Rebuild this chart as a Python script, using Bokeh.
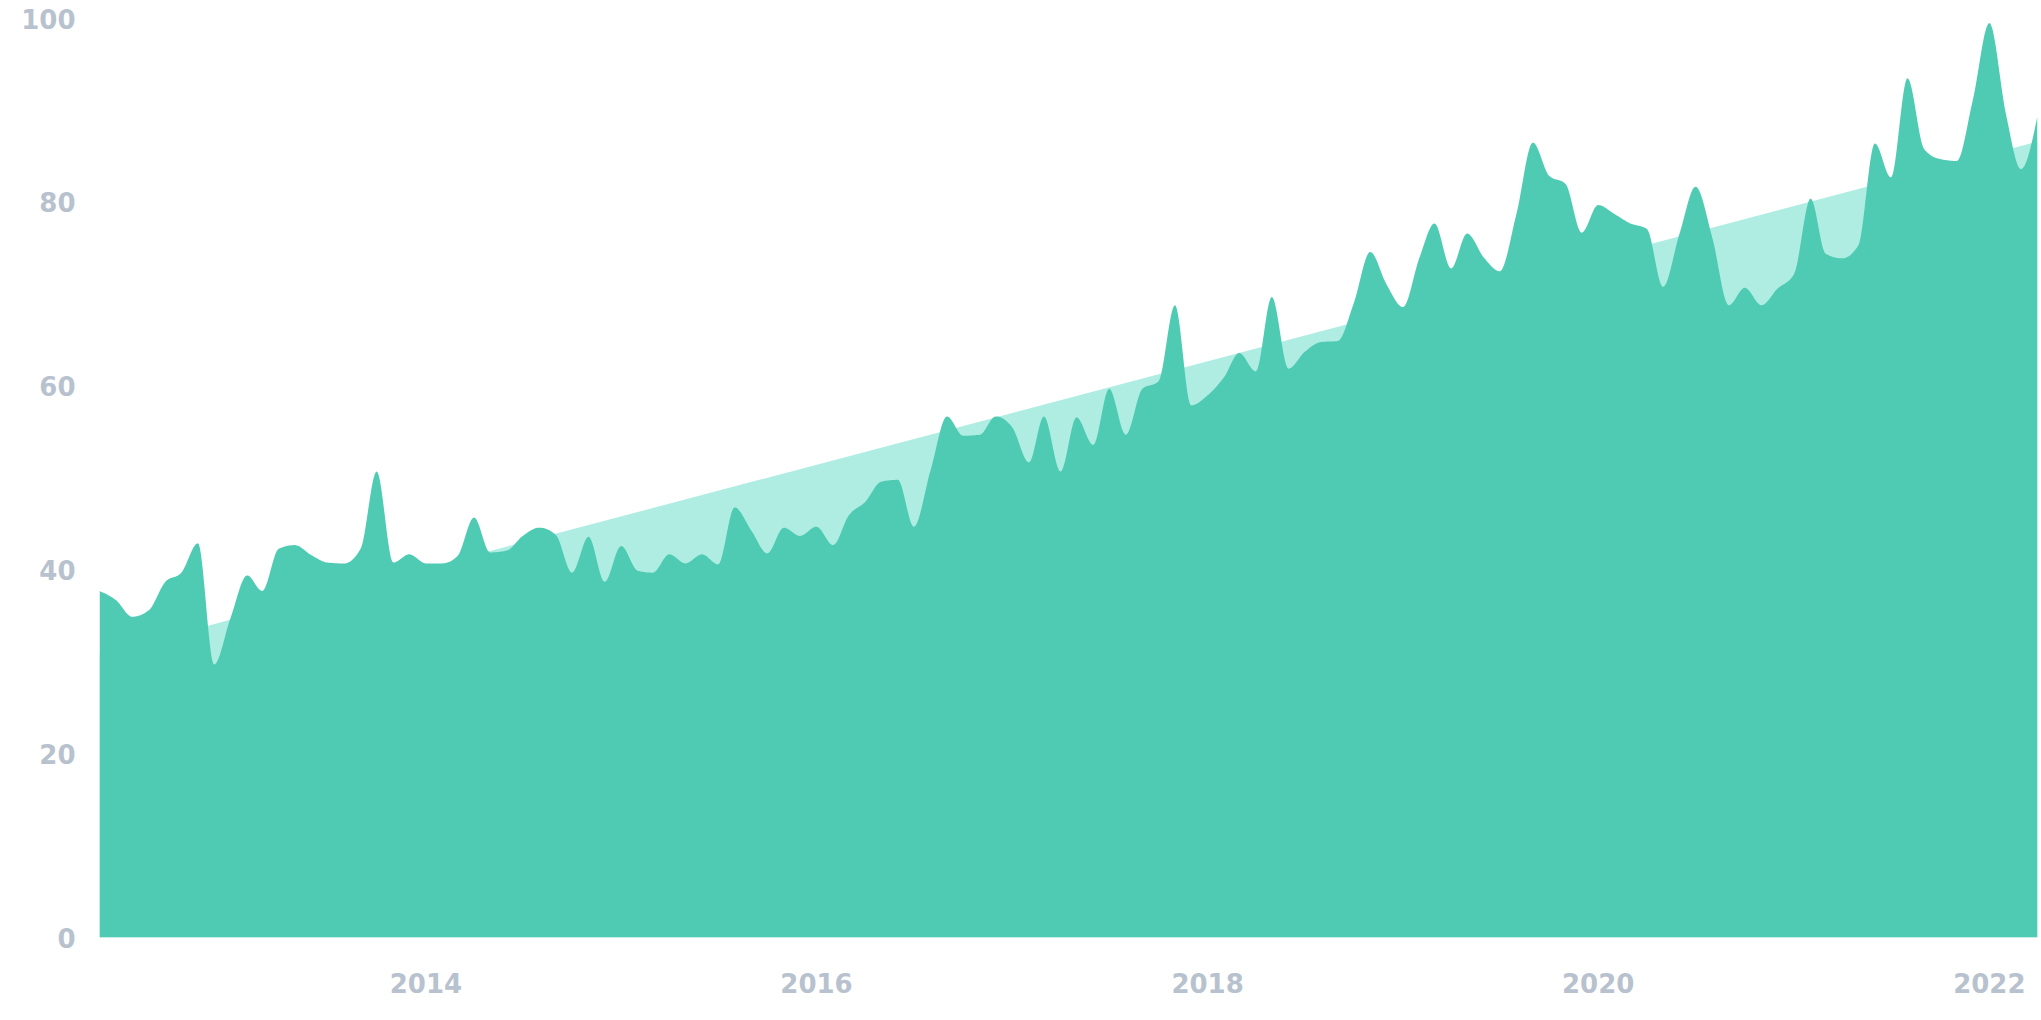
import numpy as np
import pandas as pd
from bokeh.plotting import figure
from bokeh.models import Range1d, FixedTicker, DatetimeTickFormatter
from bokeh.embed import file_html
from bokeh.resources import INLINE

# ---- data (monthly, May 2012 .. Apr 2022) ----
start_month = "2012-05-01"
values = [
    37.7, 36.7, 34.9, 35.6, 38.7, 39.7, 42.9, 29.7, 34.8, 39.4,
    37.7, 42.3, 42.7, 41.6, 40.8, 40.7, 42.3, 50.7, 40.8, 41.7,
    40.7, 40.7, 41.5, 45.7, 41.9, 42.1, 43.7, 44.6, 43.8, 39.7,
    43.6, 38.7, 42.6, 39.9, 39.7, 41.7, 40.7, 41.7, 40.6, 46.8,
    44.3, 41.8, 44.6, 43.7, 44.7, 42.7, 45.9, 47.4, 49.6, 49.8,
    44.7, 50.8, 56.7, 54.6, 54.7, 56.7, 55.5, 51.7, 56.7, 50.7,
    56.6, 53.6, 59.7, 54.7, 59.7, 60.5, 68.8, 57.9, 59.0, 61.0,
    63.6, 61.6, 69.7, 61.9, 63.7, 64.8, 64.9, 69.0, 74.6, 71.1,
    68.6, 74.0, 77.7, 72.8, 76.6, 74.0, 72.5, 78.7, 86.5, 82.9,
    82.0, 76.7, 79.7, 78.7, 77.7, 77.1, 70.8, 76.6, 81.7, 76.2,
    68.8, 70.7, 68.8, 70.6, 72.2, 80.4, 74.4, 73.9, 75.3, 86.4,
    82.7, 93.5, 85.8, 84.7, 84.5, 91.1, 99.5, 89.6, 83.6, 89.4,
]
trend_values = [30.8, 86.6]          # trend line at first and last month
tick_years = [2014, 2016, 2018, 2020, 2022]
y_ticks = [0, 20, 40, 60, 80, 100]

dates = pd.date_range(start_month, periods=len(values), freq="MS")
xs = (dates.astype("int64") // 10**6).to_numpy().astype(float)  # ms
ys = np.array(values, dtype=float)


# ---- monotone cubic (like d3.curveMonotoneX) ----
def _sign(v):
    return -1.0 if v < 0 else 1.0


def monotone_curve(x, y, samples=16):
    n = len(x)
    h = np.diff(x)
    s = np.diff(y) / h
    t = np.zeros(n)
    for i in range(1, n - 1):
        h0, h1 = h[i - 1], h[i]
        s0, s1 = s[i - 1], s[i]
        p = (s0 * h1 + s1 * h0) / (h0 + h1)
        t[i] = (_sign(s0) + _sign(s1)) * min(abs(s0), abs(s1), 0.5 * abs(p))
    t[0] = (3 * s[0] - t[1]) / 2
    t[-1] = (3 * s[-1] - t[-2]) / 2
    out_x, out_y = [], []
    for i in range(n - 1):
        x0, x1 = x[i], x[i + 1]
        y0, y1 = y[i], y[i + 1]
        dx = (x1 - x0) / 3
        c1 = y0 + dx * t[i]
        c2 = y1 - dx * t[i + 1]
        u = np.linspace(0, 1, samples, endpoint=(i == n - 2))
        bx = x0 + u * (x1 - x0)
        by = ((1 - u) ** 3) * y0 + 3 * ((1 - u) ** 2) * u * c1 + 3 * (1 - u) * u * u * c2 + u ** 3 * y1
        out_x.extend(bx)
        out_y.extend(by)
    return np.array(out_x), np.array(out_y)


cx, cy = monotone_curve(xs, ys)

label_color = "#b7c2ce"
font = "DejaVu Sans"

p = figure(
    frame_width=1938, frame_height=919,
    x_axis_type="datetime",
    x_range=Range1d(xs[0], xs[-1]), y_range=Range1d(0, 100),
    output_backend="svg", toolbar_location=None,
    min_border_left=99, min_border_right=4, min_border_top=18, min_border_bottom=80,
    background_fill_color="white", border_fill_color="white",
    outline_line_color=None,
)

# trend area (light)
p.varea(x=[xs[0], xs[-1]], y1=[0, 0], y2=trend_values, fill_color="#afede3", fill_alpha=1.0)
# main area
p.varea(x=cx, y1=np.zeros_like(cy), y2=cy, fill_color="#4fcbb3", fill_alpha=1.0)

p.grid.visible = False

tick_ms = [float(pd.Timestamp(f"{yr}-01-01").value // 10**6) for yr in tick_years]
p.xaxis.ticker = FixedTicker(ticks=tick_ms)
p.xaxis.formatter = DatetimeTickFormatter(
    years="%Y", months="%Y", days="%Y", hours="%Y", minutes="%Y",
    seconds="%Y", milliseconds="%Y", microseconds="%Y",
    hourmin="%Y", minsec="%Y",
)
p.yaxis.ticker = FixedTicker(ticks=y_ticks)

for ax in (p.xaxis, p.yaxis):
    ax.axis_line_color = None
    ax.major_tick_line_color = None
    ax.minor_tick_line_color = None
    ax.major_tick_out = 0
    ax.major_tick_in = 0
    ax.minor_tick_out = 0
    ax.major_label_text_font = font
    ax.major_label_text_font_style = "bold"
    ax.major_label_text_font_size = "26px"
    ax.major_label_text_color = label_color

p.yaxis.major_label_standoff = 24
p.xaxis.major_label_standoff = 35

open("out.html", "w").write(file_html(p, INLINE))
